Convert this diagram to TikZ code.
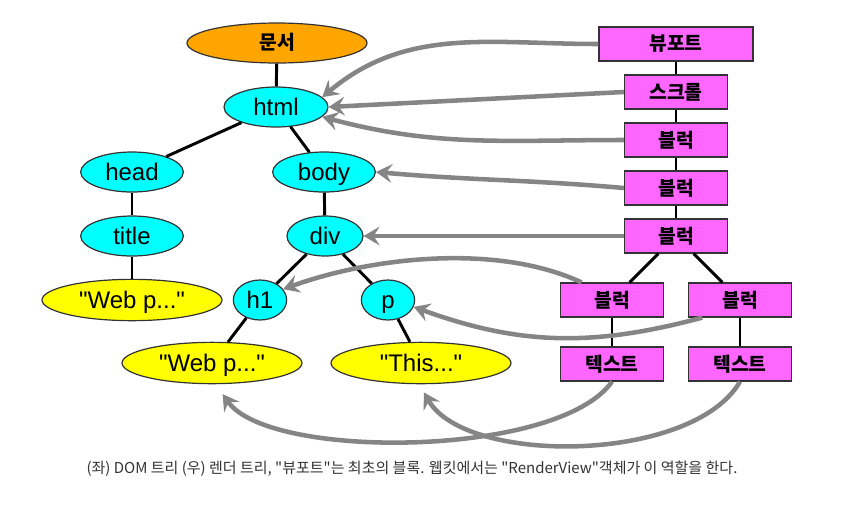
\documentclass[tikz,border=0pt]{standalone}
\usepackage{fontspec}
\setmainfont{Liberation Sans}
\newfontfamily\krfont{Noto Sans CJK KR}
\usetikzlibrary{arrows.meta,shapes.geometric}
\definecolor{domcyan}{HTML}{00FFFF}
\definecolor{docorange}{HTML}{FFA500}
\definecolor{txtyellow}{HTML}{FFFF00}
\definecolor{rmagenta}{HTML}{FF66FF}
\definecolor{refgray}{HTML}{858585}
\definecolor{capgray}{HTML}{333333}

\begin{document}
\begin{tikzpicture}[x=0.75pt,y=0.75pt,
    dom/.style={ellipse,draw=black!80,line width=0.9pt,fill=domcyan,inner sep=0pt,minimum width=77pt,minimum height=30pt,text height=12.9pt,text depth=0pt,font=\fontsize{18}{20}\selectfont},
    txt/.style={dom,fill=txtyellow,minimum width=135pt,minimum height=31pt},
    rbox/.style={rectangle,draw=black!80,line width=0.9pt,fill=rmagenta,inner sep=0pt,minimum width=77.25pt,minimum height=25.5pt,font=\krfont\bfseries\fontsize{14.5}{16}\selectfont},
    link/.style={line width=2.2pt},
    maparrow/.style={draw=refgray,line width=3.4pt,-{Stealth[length=12pt,width=14pt,inset=4.5pt]}}]
      \useasboundingbox (0,0) rectangle (861,-519);
      \node[dom,fill=docorange,minimum width=135pt,text height=11pt,text depth=2pt,font=\krfont\bfseries\fontsize{14.5}{16}\selectfont] (doc) at (277,-43) {문서};
      \node[dom,minimum width=78pt] (html) at (276,-107) {html};
      \node[dom] (head) at (132,-172) {head};
      \node[dom] (body) at (324,-172) {body};
      \node[dom] (title) at (132,-236) {title};
      \node[dom,minimum width=57pt] (div) at (325,-236) {div};
      \node[txt] (webl) at (132,-300) {\textquotedbl Web p...\textquotedbl};
      \node[dom,minimum width=40pt] (h1) at (260,-300) {h1};
      \node[dom,minimum width=40pt] (p) at (388,-300) {p};
      \node[txt] (webh) at (212,-363) {\textquotedbl Web p...\textquotedbl};
      \node[txt] (this) at (421,-363) {\textquotedbl This...\textquotedbl};
      \draw[link] (doc) -- (html);
      \draw[link] (html) -- (head);
      \draw[link] (html) -- (body);
      \draw[link] (head) -- (title);
      \draw[link] (body) -- (div);
      \draw[link] (title) -- (webl);
      \draw[link] (div) -- (h1);
      \draw[link] (div) -- (p);
      \draw[link] (h1) -- (webh);
      \draw[link] (p) -- (this);
      \node[rbox,minimum width=115.5pt] (vp) at (676,-44) {뷰포트};
      \node[rbox] (scroll) at (676,-92) {스크롤};
      \node[rbox] (blka) at (676,-140) {블럭};
      \node[rbox] (blkb) at (676,-188) {블럭};
      \node[rbox] (blkc) at (676,-236) {블럭};
      \node[rbox] (blkl) at (612,-300) {블럭};
      \node[rbox] (blkr) at (740,-300) {블럭};
      \node[rbox] (txtl) at (612,-364) {텍스트};
      \node[rbox] (txtr) at (740,-364) {텍스트};
      \draw[link] (vp) -- (scroll);
      \draw[link] (scroll) -- (blka);
      \draw[link] (blka) -- (blkb);
      \draw[link] (blkb) -- (blkc);
      \draw[link] (blkc) -- (blkl);
      \draw[link] (blkc) -- (blkr);
      \draw[link] (blkl) -- (txtl);
      \draw[link] (blkr) -- (txtr);
      \draw[maparrow] (vp.west) to[out=180,in=40] (html.12);
      \draw[maparrow] (scroll.west) -- (html.east);
      \draw[maparrow] (blka.west) to[out=180,in=-15] (html.-12);
      \draw[maparrow] (blkb.west) to[out=175,in=-5] (body.east);
      \draw[maparrow] (blkc.west) -- (div.east);
      \draw[maparrow] (blkl.150) to[out=155,in=20,looseness=0.8] (h1.25);
      \draw[maparrow] (blkr.205) to[out=195,in=-20] (p.-15);
      \draw[maparrow,shorten >=9pt] (txtl.south) to[out=235,in=-55,looseness=0.6] (webh.-80);
      \draw[maparrow,shorten >=7pt] (txtr.south) to[out=240,in=-60,looseness=0.75] (this.-95);
      \node[text=capgray,font=\krfont\fontsize{11.25}{13}\selectfont] (cap) at (412,-469) {(좌) DOM 트리 (우) 렌더 트리, \textquotedbl 뷰포트\textquotedbl 는 최초의 블록. 웹킷에서는 \textquotedbl RenderView\textquotedbl 객체가 이 역할을 한다.};
    \end{tikzpicture}
\end{document}
